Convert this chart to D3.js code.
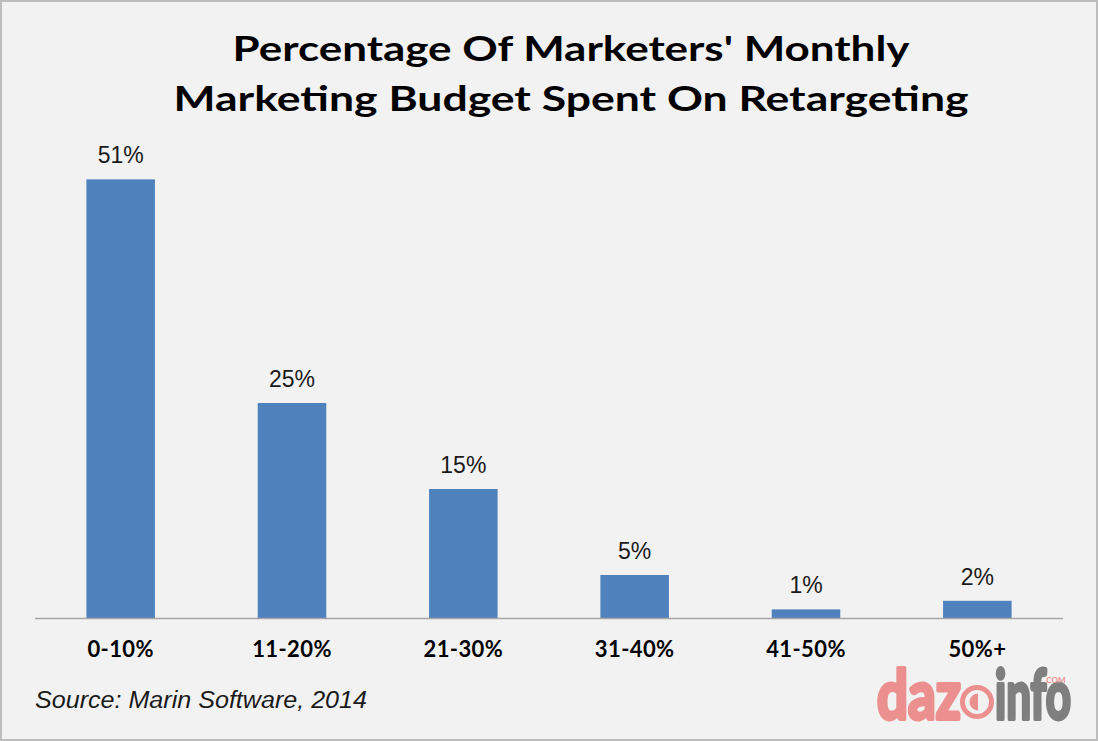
<!DOCTYPE html>
<html>
<head>
<meta charset="utf-8">
<script src="https://cdn.jsdelivr.net/npm/d3@7"></script>
<style>
  html, body { margin: 0; padding: 0; background: #f2f2f2; }
  svg { display: block; }
</style>
</head>
<body>
<svg id="chart" width="1098" height="741"></svg>
<script>
const categories = ["0-10%", "11-20%", "21-30%", "31-40%", "41-50%", "50%+"];
const values = [51, 25, 15, 5, 1, 2];
const valueLabels = ["51%", "25%", "15%", "5%", "1%", "2%"];
const titleLines = ["Percentage Of Marketers' Monthly", "Marketing Budget Spent On Retargeting"];
const sourceText = "Source: Marin Software, 2014";

const W = 1098, H = 741;
const svg = d3.select("#chart");

svg.append("rect").attr("x", 1).attr("y", 1).attr("width", W - 2).attr("height", H - 2)
  .attr("fill", "#f2f2f2").attr("stroke", "#bdbdbd").attr("stroke-width", 2);

const x = d3.scaleBand().domain(categories).range([35, 1063]).paddingInner(0.6).paddingOuter(0.3);
const y = d3.scaleLinear().domain([0, 60]).range([618, 102]);

// title
svg.append("g").selectAll("text").data(titleLines).join("text")
  .attr("x", 571).attr("y", (d, i) => 61 + i * 50)
  .attr("text-anchor", "middle")
  .attr("font-family", "Lato, 'Open Sans', sans-serif")
  .attr("font-weight", 700)
  .attr("font-size", 35)
  .attr("fill", "#000")
  .attr("textLength", (d, i) => i === 0 ? 677 : 795)
  .attr("lengthAdjust", "spacingAndGlyphs")
  .text(d => d);

// bars
svg.append("g").selectAll("rect").data(values).join("rect")
  .attr("x", (d, i) => x(categories[i]))
  .attr("width", x.bandwidth())
  .attr("y", d => y(d))
  .attr("height", d => y(0) - y(d))
  .attr("fill", "#4f81bd");

// value labels
svg.append("g").selectAll("text").data(values).join("text")
  .attr("x", (d, i) => x(categories[i]) + x.bandwidth() / 2)
  .attr("y", d => y(d) - 16)
  .attr("text-anchor", "middle")
  .attr("font-family", "'Liberation Sans', Arial, sans-serif")
  .attr("font-size", 23)
  .attr("fill", "#1a1a1a")
  .text((d, i) => valueLabels[i]);

// axis
const axis = d3.axisBottom(x).tickSize(0).tickPadding(0);
const ag = svg.append("g").attr("transform", `translate(0,${y(0)})`).call(axis);
ag.select(".domain").attr("stroke", "#a6a6a6").attr("stroke-width", 1.5).attr("d", "M35,0.5H1063");
ag.selectAll(".tick text")
  .attr("y", 39)
  .attr("dy", 0)
  .attr("font-family", "Lato, 'Open Sans', sans-serif")
  .attr("font-weight", 700)
  .attr("font-size", 22)
  .attr("letter-spacing", 0.4)
  .attr("fill", "#000");

// source
svg.append("text")
  .attr("x", 35).attr("y", 708)
  .attr("font-family", "'Liberation Sans', Arial, sans-serif")
  .attr("font-style", "italic")
  .attr("font-size", 23)
  .attr("fill", "#1a1a1a")
  .attr("textLength", 332)
  .attr("lengthAdjust", "spacingAndGlyphs")
  .text(sourceText);

// watermark logo
const logo = svg.append("g");
logo.append("text").attr("x", 877).attr("y", 719)
  .attr("font-family", "Lato, sans-serif").attr("font-weight", 700).attr("font-size", 68)
  .attr("fill", "#ec8f8f").attr("stroke", "#ec8f8f").attr("stroke-width", 4).attr("stroke-linejoin", "round")
  .attr("textLength", 84).attr("lengthAdjust", "spacingAndGlyphs")
  .text("daz");
logo.append("circle").attr("cx", 977).attr("cy", 702).attr("r", 20).attr("fill", "#f2f2f2");
logo.append("circle").attr("cx", 977).attr("cy", 702).attr("r", 14.5).attr("fill", "none")
  .attr("stroke", "#ec8f8f").attr("stroke-width", 5);
logo.append("path").attr("d", "M978,693.5 A8.5,8.5 0 1,0 978,710.5 Z").attr("fill", "#ec8f8f");
logo.append("text").attr("x", 995).attr("y", 719)
  .attr("font-family", "Lato, sans-serif").attr("font-weight", 700).attr("font-size", 68)
  .attr("fill", "#7f7f7f").attr("stroke", "#7f7f7f").attr("stroke-width", 4).attr("stroke-linejoin", "round")
  .attr("textLength", 76).attr("lengthAdjust", "spacingAndGlyphs")
  .text("info");
logo.append("text").attr("x", 1055).attr("y", 683)
  .attr("text-anchor", "middle")
  .attr("font-family", "Lato, sans-serif").attr("font-weight", 700).attr("font-size", 8)
  .attr("fill", "#ec8f8f").text(".COM");
</script>
</body>
</html>
